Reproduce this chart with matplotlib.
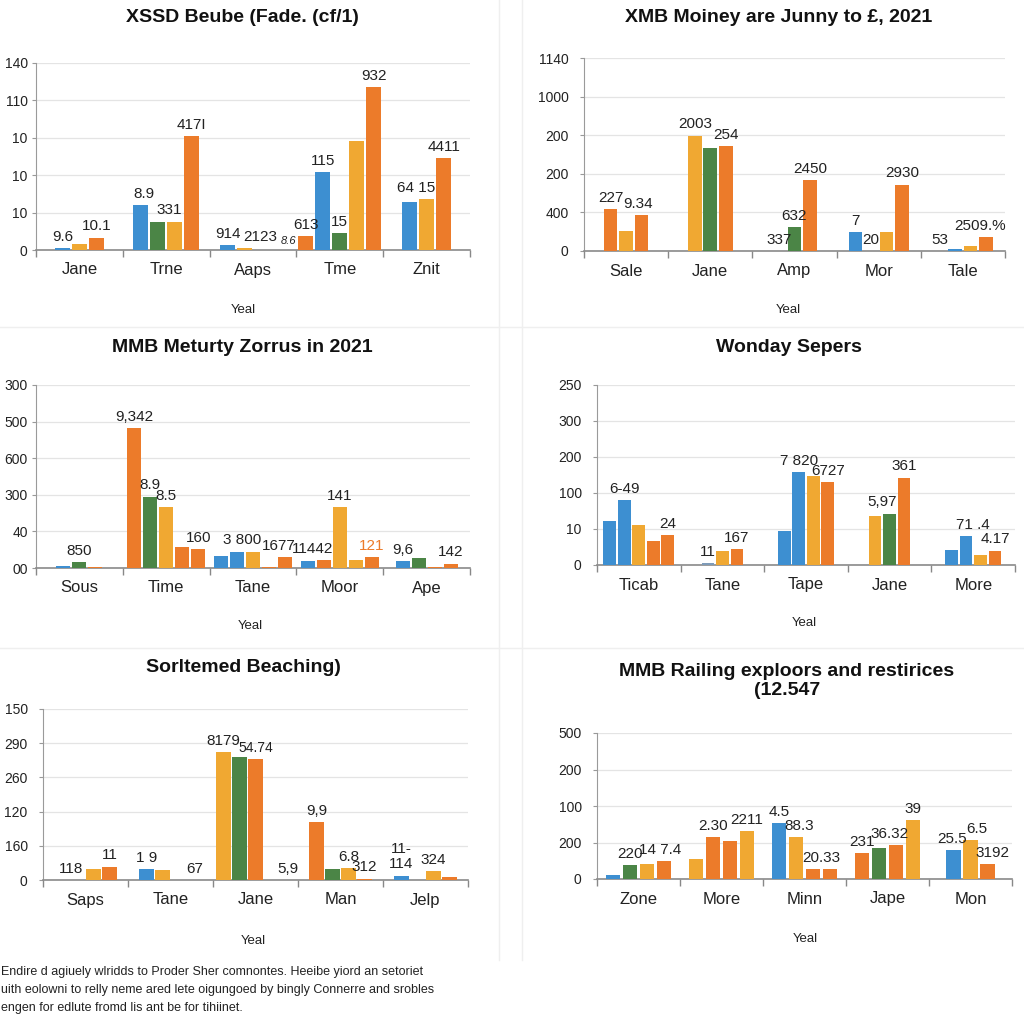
import matplotlib
matplotlib.use("Agg")
import matplotlib.pyplot as plt

plt.rcParams['font.family'] = ['Liberation Sans', 'DejaVu Sans']

COLORS = {'b': '#3d8fd1', 'g': '#4b8546', 'y': '#f0a832', 'o': '#ec7b2a', 's': '#7e9bb8'}

# ---- panel 1 (top left)
p1_title = 'XSSD Beube (Fade. (cf/1)'
p1_categories = ['Jane', 'Trne', 'Aaps', 'Tme', 'Znit']
p1_yticks = ['0', '10', '10', '10', '110', '140']
p1_bars = [
    [('b', 0.06), ('y', 0.17), ('o', 0.33)],
    [('b', 1.19), ('g', 0.76), ('y', 0.76), ('o', 3.05)],
    [('b', 0.13), ('y', 0.05), None, None],
    [('o', 0.37), ('b', 2.08), ('g', 0.46), ('y', 2.92), ('o', 4.35)],
    [('b', 1.28), ('y', 1.36), ('o', 2.46)],
]
p1_labels = [
    [(0, '9.6'), (2, '10.1')],
    [(0.2, '8.9'), (1.7, '331'), (3, '417I')],
    [(0, '914'), (1.9, '2123'), (3.6, '8.6', {'size': 8, 'style': 'italic'})],
    [(0, '613'), (1, '115'), (2, '15'), (4, '932')],
    [(0.4, '64 15'), (2, '4411')],
]

# ---- panel 2 (top right)
p2_title = 'XMB Moiney are Junny to £, 2021'
p2_categories = ['Sale', 'Jane', 'Amp', 'Mor', 'Tale']
p2_yticks = ['0', '400', '200', '200', '1000', '1140']
p2_bars = [
    [('o', 1.09), ('y', 0.51), ('o', 0.94)],
    [('y', 2.99), ('g', 2.66), ('o', 2.72)],
    [None, ('g', 0.62), ('o', 1.84)],
    [('b', 0.49), None, ('y', 0.49), ('o', 1.72)],
    [None, ('b', 0.04), ('y', 0.13), ('o', 0.36)],
]
p2_labels = [
    [(0, '227'), (1.8, '9.34')],
    [(0, '2003'), (2, '254')],
    [(0, '337'), (1, '632'), (2, '2450')],
    [(0, '7'), (1, '20'), (3, '2930')],
    [(0, '53'), (2.6, '2509.%')],
]

# ---- panel 3 (middle left)
p3_title = 'MMB Meturty Zorrus in 2021'
p3_categories = ['Sous', 'Time', 'Tane', 'Moor', 'Ape']
p3_yticks = ['00', '40', '300', '600', '500', '300']
p3_bars = [
    [('b', 0.05), ('g', 0.17), ('o', 0.03)],
    [('o', 3.83), ('g', 1.95), ('y', 1.66), ('o', 0.57), ('o', 0.51)],
    [('b', 0.32), ('b', 0.45), ('y', 0.44), ('o', 0.03), ('o', 0.29)],
    [('b', 0.19), ('o', 0.22), ('y', 1.66), ('y', 0.23), ('o', 0.30)],
    [('b', 0.18), ('g', 0.27), ('o', 0.02), ('o', 0.12)],
]
p3_labels = [
    [(1, '850')],
    [(0, '9,342'), (1, '8.9'), (2, '8.5'), (4, '160')],
    [(1.3, '3 800'), (3.6, '1677')],
    [(0.3, '11442'), (2, '141'), (4, '121', {'color': '#ec7b2a'})],
    [(0, '9,6'), (3, '142')],
]

# ---- panel 4 (middle right)
p4_title = 'Wonday Sepers'
p4_categories = ['Ticab', 'Tane', 'Tape', 'Jane', 'More']
p4_yticks = ['0', '10', '100', '200', '300', '250']
p4_bars = [
    [('b', 1.23), ('b', 1.80), ('y', 1.12), ('o', 0.66), ('o', 0.84)],
    [('s', 0.06), ('y', 0.38), ('o', 0.44)],
    [('b', 0.94), ('b', 2.58), ('y', 2.48), ('o', 2.31)],
    [('y', 1.35), ('g', 1.43), ('o', 2.43)],
    [('b', 0.43), ('b', 0.80), ('y', 0.29), ('o', 0.40)],
]
p4_labels = [
    [(1, '6-49'), (4, '24')],
    [(0, '11'), (2, '167')],
    [(1, '7 820'), (3, '6727')],
    [(0.5, '5,97'), (2, '361')],
    [(1.5, '71 .4'), (3, '4.17')],
]

# ---- panel 5 (bottom left)
p5_title = 'Sorltemed Beaching)'
p5_categories = ['Saps', 'Tane', 'Jane', 'Man', 'Jelp']
p5_yticks = ['0', '160', '120', '260', '290', '150']
p5_bars = [
    [None, None, ('y', 0.32), ('o', 0.39)],
    [('b', 0.32), ('y', 0.28), None, None],
    [('y', 3.75), ('g', 3.60), ('o', 3.53), None, None],
    [('o', 1.69), ('g', 0.32), ('y', 0.34), ('o', 0.04)],
    [('b', 0.13), None, ('y', 0.26), ('o', 0.08)],
]
p5_labels = [
    [(0.6, '118'), (3, '11')],
    [(0, '1 9'), (3, '67')],
    [(0, '8179'), (2, '54.74', {'size': 10}), (4, '5,9')],
    [(0, '9,9'), (2, '6.8'), (3, '312')],
    [(0, '11-\n114'), (2, '324')],
]

# ---- panel 6 (bottom right)
p6_title = 'MMB Railing exploors and restirices\n(12.547'
p6_categories = ['Zone', 'More', 'Minn', 'Jape', 'Mon']
p6_yticks = ['0', '200', '100', '200', '500']
p6_bars = [
    [('b', 0.10), ('g', 0.39), ('y', 0.41), ('o', 0.50)],
    [('y', 0.55), ('o', 1.15), ('o', 1.05), ('y', 1.32)],
    [('b', 1.53), ('y', 1.14), ('o', 0.27), ('o', 0.27)],
    [('o', 0.71), ('g', 0.85), ('o', 0.92), ('y', 1.62)],
    [('b', 0.80), ('y', 1.07), ('o', 0.41)],
]
p6_labels = [
    [(1, '220'), (2.8, '14 7.4')],
    [(1, '2.30'), (3, '2211')],
    [(0, '4.5'), (1.2, '88.3'), (2.5, '20.33')],
    [(0, '231'), (1.6, '36.32'), (3, '39')],
    [(-0.1, '25.5'), (1.4, '6.5'), (2.3, '3192')],
]

footer = ("Endire d agiuely wlridds to Proder Sher comnontes. Heeibe yiord an setoriet\n"
          "uith eolowni to relly neme ared lete oigungoed by bingly Connerre and srobles\n"
          "engen for edlute fromd lis ant be for tihiinet.")

W = H = 1024
fig = plt.figure(figsize=(10.24, 10.24), dpi=100)


def px_rect(left, top, right, bottom):
    return [left / W, 1 - bottom / H, (right - left) / W, (bottom - top) / H]


def draw_panel(rect, title, title_xy, xlabel_xy, cats, yticks, bars, labels,
               pitch_px, ypad=8):
    left, top, right, bottom = rect
    ax = fig.add_axes(px_rect(left, top, right, bottom))
    ncat = len(cats)
    unit_px = (right - left) / ncat
    pitch = pitch_px / unit_px
    width = pitch * 0.88
    for i, group in enumerate(bars):
        n = len(group)
        xs = [i + (j - (n - 1) / 2) * pitch for j in range(n)]
        for j, bar in enumerate(group):
            if bar is None:
                continue
            c, v = bar
            ax.bar(xs[j], v, width=width, color=COLORS[c], zorder=3)
        for lab in labels[i]:
            slot, text = lab[0], lab[1]
            style = lab[2] if len(lab) > 2 else {}
            near = [group[k][1] for k in (int(slot), int(slot + 0.999))
                    if 0 <= k < n and group[k] is not None]
            y = max(near) if near else 0
            x = i + (slot - (n - 1) / 2) * pitch
            ax.annotate(text, (x, y), xytext=(0, 3), textcoords='offset points',
                        ha='center', va='bottom', fontsize=style.get('size', 11),
                        color=style.get('color', '#222222'),
                        style=style.get('style', 'normal'), zorder=4,
                        linespacing=1.1)
    ax.set_xlim(-0.5, ncat - 0.5)
    ax.set_ylim(0, len(yticks) - 1)
    ax.set_xticks(range(ncat))
    ax.set_xticklabels(cats, fontsize=12, color='#222222')
    ax.set_xticks([k - 0.5 for k in range(ncat + 1)], minor=True)
    ax.tick_params(axis='x', which='major', length=0, pad=9)
    ax.tick_params(axis='x', which='minor', length=5, color='#888888', width=1)
    ax.set_yticks(range(len(yticks)))
    ax.set_yticklabels(yticks, fontsize=10, color='#222222')
    ax.tick_params(axis='y', length=3, color='#999999', pad=ypad)
    ax.yaxis.grid(True, color='#e4e4e4', lw=0.9)
    ax.set_axisbelow(True)
    for s in ('top', 'right'):
        ax.spines[s].set_visible(False)
    ax.spines['left'].set_color('#9a9a9a')
    ax.spines['bottom'].set_color('#8a8a8a')
    ax.spines['bottom'].set_linewidth(1.2)
    ax.patch.set_alpha(0)
    fig.text(title_xy[0] / W, 1 - title_xy[1] / H, title, ha='center', va='center',
             fontsize=14, fontweight='bold', color='#111111', linespacing=1.15)
    fig.text(xlabel_xy[0] / W, 1 - xlabel_xy[1] / H, 'Yeal', ha='center', va='center',
             fontsize=9.5, color='#222222')
    return ax


# faint panel separators
for x in (499, 522):
    fig.add_artist(plt.Line2D([x / W, x / W], [1 - 960 / H, 1], color='#efefef', lw=1))
for y in (327, 648):
    fig.add_artist(plt.Line2D([0, 1], [1 - y / H, 1 - y / H], color='#efefef', lw=1))

draw_panel((36, 63, 470, 250), p1_title, (242, 17), (243, 310),
           p1_categories, p1_yticks, p1_bars, p1_labels, 17, ypad=3)
draw_panel((584, 58, 1005, 251), p2_title, (779, 17), (788, 310),
           p2_categories, p2_yticks, p2_bars, p2_labels, 15.5)
draw_panel((36, 385, 470, 568), p3_title, (242, 347), (250, 626),
           p3_categories, p3_yticks, p3_bars, p3_labels, 16, ypad=3)
draw_panel((597, 385, 1015, 565), p4_title, (789, 348), (804, 623),
           p4_categories, p4_yticks, p4_bars, p4_labels, 14.5)
draw_panel((43, 709, 468, 880), p5_title, (243, 667), (253, 941),
           p5_categories, p5_yticks, p5_bars, p5_labels, 16)
draw_panel((597, 733, 1012, 879), p6_title, (787, 681), (805, 939),
           p6_categories, p6_yticks, p6_bars, p6_labels, 17)

fig.text(1 / W, 1 - 966 / H, footer, ha='left', va='top', fontsize=9.0,
         color='#222222', linespacing=1.65)

fig.savefig('out.png', dpi=100, facecolor='white')
